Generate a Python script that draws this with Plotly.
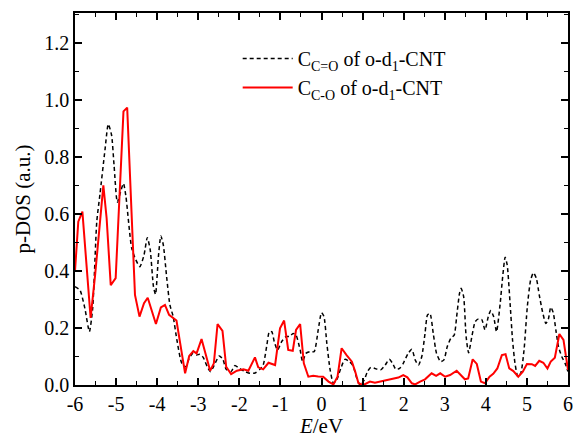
import plotly.graph_objects as go

# Black dashed: C(C=O) of o-d1-CNT
e_co_double = [-6.0, -5.88, -5.76, -5.65, -5.57, -5.47, -5.39, -5.27, -5.19, -5.11, -5.05, -4.97, -4.89, -4.82, -4.76,
               -4.62, -4.52, -4.42, -4.32, -4.24, -4.17, -4.09, -4.04, -3.97, -3.91, -3.85, -3.77, -3.69, -3.61, -3.52,
               -3.40, -3.30, -3.22, -3.13, -3.04, -2.96, -2.88, -2.78, -2.70, -2.59, -2.49, -2.40, -2.32, -2.20, -2.11,
               -2.00, -1.86, -1.74, -1.62, -1.50, -1.42, -1.33, -1.27, -1.21, -1.15, -1.07, -0.97, -0.86, -0.78, -0.69,
               -0.62, -0.52, -0.46, -0.38, -0.28, -0.18, -0.08, 0.0, 0.06, 0.13, 0.21, 0.29, 0.37, 0.47, 0.57, 0.68,
               0.77, 0.86, 0.94, 1.03, 1.12, 1.20, 1.30, 1.44, 1.55, 1.65, 1.73, 1.81, 1.90, 1.99, 2.11, 2.20, 2.28,
               2.36, 2.44, 2.52, 2.58, 2.64, 2.72, 2.80, 2.90, 2.98, 3.06, 3.15, 3.23, 3.29, 3.36, 3.40, 3.46, 3.52,
               3.58, 3.66, 3.74, 3.82, 3.90, 3.98, 4.06, 4.12, 4.19, 4.26, 4.35, 4.41, 4.47, 4.52, 4.59, 4.65, 4.71,
               4.78, 4.85, 4.93, 5.01, 5.09, 5.16, 5.23, 5.30, 5.38, 5.46, 5.52, 5.58, 5.64, 5.71, 5.77, 5.85, 5.93, 6.0]
dos_co_double = [0.345, 0.333, 0.269, 0.187, 0.269, 0.573, 0.672, 0.825, 0.915, 0.877, 0.772, 0.641, 0.678, 0.707, 0.661,
                 0.48, 0.439, 0.415, 0.456, 0.517, 0.475, 0.345, 0.318, 0.45, 0.523, 0.491, 0.38, 0.281, 0.24, 0.158,
                 0.076, 0.064, 0.094, 0.111, 0.105, 0.108, 0.097, 0.064, 0.047, 0.076, 0.102, 0.09, 0.055, 0.047, 0.068,
                 0.058, 0.047, 0.041, 0.042, 0.055, 0.07, 0.14, 0.187, 0.187, 0.152, 0.123, 0.152, 0.17, 0.17, 0.181,
                 0.175, 0.123, 0.082, 0.111, 0.117, 0.117, 0.193, 0.254, 0.24, 0.146, 0.053, 0.006, 0.018, 0.058, 0.09, 0.082,
                 0.067, 0.023, 0.0, 0.015, 0.047, 0.062, 0.058, 0.053, 0.07, 0.09, 0.076, 0.055, 0.058, 0.076, 0.111, 0.125, 0.088,
                 0.07, 0.099, 0.181, 0.246, 0.251, 0.181, 0.111, 0.082, 0.088, 0.134, 0.164, 0.175, 0.24, 0.322, 0.339, 0.31, 0.17,
                 0.113, 0.17, 0.222, 0.232, 0.23, 0.193, 0.24, 0.261, 0.24, 0.187, 0.287, 0.38, 0.448, 0.421, 0.287, 0.158, 0.076,
                 0.029, 0.041, 0.123, 0.275, 0.368, 0.394, 0.374, 0.316, 0.257, 0.216, 0.23, 0.273, 0.254, 0.187, 0.134, 0.099, 0.076, 0.047]

# Red solid: C(C-O) of o-d1-CNT
e_co_single = [-6.0, -5.92, -5.82, -5.62, -5.51, -5.31, -5.23, -5.13, -5.01, -4.82, -4.73, -4.54, -4.43, -4.32, -4.23,
               -4.03, -3.91, -3.81, -3.71, -3.53, -3.32, -3.22, -3.12, -3.04, -2.92, -2.84, -2.71, -2.62, -2.53, -2.41,
               -2.32, -2.20, -2.06, -1.90, -1.78, -1.62, -1.54, -1.42, -1.29, -1.13, -1.01, -0.91, -0.81, -0.70, -0.62,
               -0.52, -0.43, -0.32, -0.20, -0.08, 0.04, 0.17, 0.29, 0.39, 0.49, 0.61, 0.74, 0.82, 0.90, 1.02, 1.18,
               1.30, 1.47, 1.71, 1.87, 1.99, 2.09, 2.20, 2.28, 2.40, 2.52, 2.68, 2.79, 2.89, 3.01, 3.13, 3.29, 3.49,
               3.57, 3.68, 3.78, 3.88, 3.98, 4.09, 4.18, 4.28, 4.39, 4.48, 4.57, 4.67, 4.79, 4.90, 5.00, 5.12, 5.20,
               5.30, 5.40, 5.50, 5.58, 5.68, 5.79, 5.89, 6.0]
dos_co_single = [0.40, 0.573, 0.608, 0.235, 0.386, 0.70, 0.585, 0.35, 0.375, 0.96, 0.973, 0.316, 0.24, 0.287, 0.306,
                 0.214, 0.272, 0.281, 0.246, 0.226, 0.041, 0.102, 0.119, 0.111, 0.161, 0.117, 0.05, 0.076, 0.214, 0.19,
                 0.064, 0.038, 0.05, 0.055, 0.05, 0.097, 0.062, 0.055, 0.078, 0.07, 0.199, 0.226, 0.123, 0.12, 0.193,
                 0.214, 0.076, 0.029, 0.032, 0.03, 0.029, 0.012, 0.002, 0.029, 0.129, 0.105, 0.082, 0.047, 0.006, 0.0, 0.012,
                 0.008, 0.014, 0.023, 0.026, 0.035, 0.027, 0.006, 0.002, 0.012, 0.02, 0.041, 0.032, 0.041, 0.029, 0.035, 0.05, 0.02,
                 0.023, 0.09, 0.074, 0.012, 0.006, 0.029, 0.039, 0.058, 0.105, 0.108, 0.058, 0.049, 0.029, 0.047, 0.074, 0.073, 0.067,
                 0.085, 0.078, 0.058, 0.082, 0.096, 0.179, 0.158, 0.053]

x_tickvals = [-6, -5, -4, -3, -2, -1, 0, 1, 2, 3, 4, 5, 6]
x_ticktext = ["-6", "-5", "-4", "-3", "-2", "-1", "0", "1", "2", "3", "4", "5", "6"]
y_tickvals = [0.0, 0.2, 0.4, 0.6, 0.8, 1.0, 1.2]
y_ticktext = ["0.0", "0.2", "0.4", "0.6", "0.8", "1.0", "1.2"]

FONT = "Liberation Serif, Times New Roman, serif"

fig = go.Figure()
fig.add_trace(go.Scatter(
    x=e_co_double, y=dos_co_double, mode="lines",
    name="C<sub>C=O</sub> of o-d<sub>1</sub>-CNT",
    line=dict(color="black", width=1.5, dash="4px,3px", shape="spline", smoothing=0.6),
))
fig.add_trace(go.Scatter(
    x=e_co_single, y=dos_co_single, mode="lines",
    name="C<sub>C-O</sub> of o-d<sub>1</sub>-CNT",
    line=dict(color="#ff0000", width=2),
))

axis_common = dict(
    showline=True, linecolor="black", linewidth=1.5, mirror="ticks",
    ticks="inside", ticklen=7, tickwidth=1.5, tickcolor="black",
    showgrid=False, zeroline=False, automargin=False,
    tickfont=dict(family=FONT, size=20, color="black"),
)

fig.update_xaxes(
    range=[-6, 6], tickvals=x_tickvals, ticktext=x_ticktext,
    minor=dict(ticks="inside", ticklen=4, tickwidth=1.2, tickcolor="black", dtick=0.5, showgrid=False),
    title=dict(text="<i>E</i>/eV", font=dict(family=FONT, size=21, color="black"), standoff=2),
    **axis_common,
)
fig.update_yaxes(
    range=[0, 1.305], tickvals=y_tickvals, ticktext=y_ticktext,
    minor=dict(ticks="inside", ticklen=4, tickwidth=1.2, tickcolor="black", tick0=0, dtick=0.1, showgrid=False),
    title=dict(text="p-DOS (a.u.)", font=dict(family=FONT, size=21, color="black"), standoff=8),
    **axis_common,
)

fig.update_layout(
    width=573, height=438,
    margin=dict(l=75, r=5, t=13, b=53),
    paper_bgcolor="white", plot_bgcolor="white",
    font=dict(family=FONT, size=20, color="black"),
    legend=dict(
        x=0.33, y=0.93, xanchor="left", yanchor="top",
        bgcolor="rgba(0,0,0,0)", borderwidth=0,
        font=dict(family=FONT, size=20, color="black"),
        itemwidth=50, tracegroupgap=0,
    ),
    showlegend=True,
)

fig.write_html("out.html", config={"displayModeBar": False},
               post_script="document.body.style.margin='0';document.body.style.overflow='hidden';")
